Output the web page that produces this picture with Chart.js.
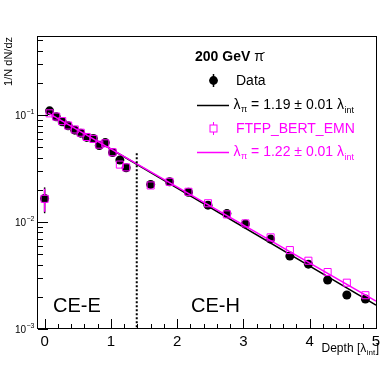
<!DOCTYPE html>
<html>
<head>
<meta charset="utf-8">
<script src="https://cdn.jsdelivr.net/npm/chart.js@4.4.1/dist/chart.umd.min.js"></script>
<style>
  html, body { margin: 0; padding: 0; background: #fff; }
  #wrap { width: 382px; height: 366px; }
</style>
</head>
<body>
<div id="wrap"><canvas id="js-depth-chart" width="382" height="366"></canvas></div>
<script>
// longitudinal shower profile, 200 GeV pi-, data vs FTFP_BERT_EMN
var depth = [0, 0.075, 0.175, 0.265, 0.355, 0.455, 0.545, 0.635, 0.735, 0.825, 0.915, 1.025, 1.135, 1.23,
  1.6, 1.885, 2.17, 2.465, 2.75, 3.03, 3.41, 3.70, 3.98, 4.27, 4.56, 4.84]
var dataVal = [0.0166, 0.1097, 0.0964, 0.0866, 0.0795, 0.0724, 0.0679, 0.0619, 0.0605, 0.0520, 0.0554, 0.0448, 0.0380, 0.0322,
  0.0225, 0.0238, 0.0190, 0.0144, 0.0120, 0.00957, 0.00693, 0.00481, 0.00404, 0.00287, 0.00208, 0.00191]
var dataErr = [0.0045, 0, 0, 0, 0, 0, 0, 0, 0, 0, 0, 0, 0, 0, 0, 0, 0, 0, 0, 0, 0, 0, 0, 0, 0, 0]
var mcVal = [0.0165, 0.104, 0.097, 0.088, 0.080, 0.0735, 0.0685, 0.0625, 0.060, 0.053, 0.0545, 0.045, 0.0345, 0.0325,
  0.0220, 0.0238, 0.0192, 0.0150, 0.0118, 0.00972, 0.0072, 0.00547, 0.00435, 0.00341, 0.00271, 0.00207]
var mcErr = [0.0040, 0, 0, 0, 0, 0, 0, 0, 0, 0, 0, 0, 0, 0, 0, 0, 0, 0, 0, 0, 0, 0, 0, 0, 0, 0]

// exponential fits, drawn as straight lines on the log axis
var fitDepth = [0.05, 5.0]
var fitData = [0.107, 0.00167]
var fitMc = [0.105, 0.00182]

// CE-E / CE-H boundary
var boundaryDepth = 1.39
var boundaryTop = 0.044

var xTickLabels = ["0", "1", "2", "3", "4", "5"]
var yTickExps = [-3, -2, -1]

var MAGENTA = "#ff00ff"
var FONT = "'Liberation Sans', Arial, Helvetica, sans-serif"

function pts(xs, ys) {
  return xs.map(function (x, i) { return { x: x, y: ys[i] } })
}

function txt(ctx, s, x, y, size, color, weight) {
  ctx.font = (weight || "normal") + " " + size + "px " + FONT
  ctx.fillStyle = color || "#000"
  ctx.fillText(s, x, y)
  return x + ctx.measureText(s).width
}

// lambda_pi = ... lambda_int, with subscripts
function lambdaText(ctx, x, y, body, color) {
  x = txt(ctx, "λ", x, y, 14, color)
  x = txt(ctx, "π", x + 0.5, y + 3, 9, color)
  x = txt(ctx, body + "λ", x, y, 14, color)
  txt(ctx, "int", x + 0.5, y + 4, 9, color)
}

var rootStyle = {
  id: "rootStyle",
  beforeDatasetsDraw: function (chart) {
    var ctx = chart.ctx, xs = chart.scales.x, ys = chart.scales.y
    ctx.save()
    ctx.strokeStyle = "#000"
    ctx.lineWidth = 1.5
    ctx.beginPath()
    depth.forEach(function (d, i) {
      if (!dataErr[i]) return
      var px = xs.getPixelForValue(d)
      ctx.moveTo(px, ys.getPixelForValue(dataVal[i] + dataErr[i]))
      ctx.lineTo(px, ys.getPixelForValue(dataVal[i] - dataErr[i]))
    })
    ctx.stroke()
    ctx.restore()
  },
  afterDatasetsDraw: function (chart) {
    var ctx = chart.ctx, xs = chart.scales.x, ys = chart.scales.y, a = chart.chartArea
    ctx.save()
    ctx.strokeStyle = MAGENTA
    ctx.lineWidth = 1.5
    ctx.beginPath()
    depth.forEach(function (d, i) {
      if (!mcErr[i]) return
      var px = xs.getPixelForValue(d), py = ys.getPixelForValue(mcVal[i])
      ctx.moveTo(px, ys.getPixelForValue(mcVal[i] + mcErr[i]))
      ctx.lineTo(px, py - 3.5)
      ctx.moveTo(px, py + 3.5)
      ctx.lineTo(px, ys.getPixelForValue(mcVal[i] - mcErr[i]))
    })
    ctx.stroke()

    // dotted boundary line
    ctx.strokeStyle = "#000"
    ctx.lineWidth = 2
    ctx.setLineDash([2, 2])
    ctx.beginPath()
    var bx = xs.getPixelForValue(boundaryDepth)
    ctx.moveTo(bx, ys.getPixelForValue(boundaryTop))
    ctx.lineTo(bx, a.bottom)
    ctx.stroke()
    ctx.restore()
  },
  afterDraw: function (chart) {
    var ctx = chart.ctx, xs = chart.scales.x, ys = chart.scales.y, a = chart.chartArea
    ctx.save()

    // frame
    ctx.strokeStyle = "#000"
    ctx.lineWidth = 1
    ctx.strokeRect(Math.round(a.left) - 0.5, Math.round(a.top) + 0.5, Math.round(a.right - a.left) + 1, Math.round(a.bottom - a.top) - 1)

    // x ticks, inside the frame
    ctx.beginPath()
    for (var k = 0; k <= 25; k++) {
      var px = Math.round(xs.getPixelForValue(k * 0.2)) + 0.5
      var len = (k % 5 === 0) ? 10 : 5
      ctx.moveTo(px, a.bottom)
      ctx.lineTo(px, a.bottom - len)
    }
    // y ticks, log decades
    yTickExps.forEach(function (e) {
      for (var m = 1; m <= 9; m++) {
        var v = m * Math.pow(10, e)
        if (v > ys.max * 1.0001) continue
        var py = Math.round(ys.getPixelForValue(v)) + 0.5
        var l = (m === 1) ? 10 : 5
        ctx.moveTo(a.left, py)
        ctx.lineTo(a.left + l, py)
      }
    })
    ctx.stroke()

    // x tick labels
    ctx.textAlign = "center"
    ctx.textBaseline = "alphabetic"
    xTickLabels.forEach(function (s) {
      txt(ctx, s, xs.getPixelForValue(Number(s)), 346, 15)
    })

    // y tick labels 10^e
    ctx.textAlign = "left"
    yTickExps.forEach(function (e) {
      var py = ys.getPixelForValue(Math.pow(10, e))
      ctx.font = "7px " + FONT
      var sup = "\u2212" + Math.abs(e)
      var ws = ctx.measureText(sup).width
      ctx.font = "10px " + FONT
      var wb = ctx.measureText("10").width
      var x0 = 34 - ws - wb
      var x1 = txt(ctx, "10", x0, py + 4, 10)
      txt(ctx, sup, x1 + 0.5, py - 1, 7)
    })

    // axis titles
    ctx.save()
    ctx.translate(11.5, a.top + 1)
    ctx.rotate(-Math.PI / 2)
    ctx.textAlign = "right"
    txt(ctx, "1/N dN/dz", 0, 0, 11)
    ctx.restore()

    ctx.textAlign = "left"
    ctx.font = "12px " + FONT
    var w1 = ctx.measureText("Depth [λ").width
    var w3 = ctx.measureText("]").width
    ctx.font = "8px " + FONT
    var w2 = ctx.measureText("int").width
    var tx = 379 - w1 - w2 - w3 - 1
    tx = txt(ctx, "Depth [λ", tx, 351.5, 12)
    tx = txt(ctx, "int", tx + 0.5, 354.5, 8)
    txt(ctx, "]", tx + 0.5, 351.5, 12)

    // section labels
    txt(ctx, "CE-E", 53, 311.5, 20)
    txt(ctx, "CE-H", 191, 311.5, 20)

    // legend
    var gx = txt(ctx, "200 GeV", 195, 61, 14, "#000", "bold")
    txt(ctx, "π", gx + 4, 61, 14)
    txt(ctx, "-", gx + 12, 55, 9)

    ctx.fillStyle = "#000"
    ctx.beginPath()
    ctx.arc(213.5, 80.5, 4.4, 0, Math.PI * 2)
    ctx.fill()
    ctx.strokeStyle = "#000"
    ctx.lineWidth = 1.5
    ctx.beginPath()
    ctx.moveTo(213.5, 74)
    ctx.lineTo(213.5, 87)
    ctx.stroke()
    txt(ctx, "Data", 236, 85, 14)

    ctx.beginPath()
    ctx.moveTo(197, 105.5)
    ctx.lineTo(229, 105.5)
    ctx.stroke()
    lambdaText(ctx, 233.5, 109, " = 1.19 ± 0.01 ", "#000")

    ctx.strokeStyle = MAGENTA
    ctx.lineWidth = 1
    ctx.strokeRect(210, 125, 7, 7)
    ctx.beginPath()
    ctx.moveTo(213.5, 122)
    ctx.lineTo(213.5, 125)
    ctx.moveTo(213.5, 132)
    ctx.lineTo(213.5, 135)
    ctx.stroke()
    txt(ctx, "FTFP_BERT_EMN", 236, 133, 14, MAGENTA)

    ctx.lineWidth = 1.5
    ctx.beginPath()
    ctx.moveTo(197, 152.5)
    ctx.lineTo(229, 152.5)
    ctx.stroke()
    lambdaText(ctx, 233.5, 156, " = 1.22 ± 0.01 ", MAGENTA)

    ctx.restore()
  }
}

var ctx = document.getElementById("js-depth-chart")

var chart = new Chart(ctx,
  {
    type: "scatter",
    data: {
      datasets: [
        {
          label: "λπ = 1.22 ± 0.01 λint",
          data: pts(fitDepth, fitMc),
          showLine: true,
          borderColor: MAGENTA,
          borderWidth: 1.5,
          pointRadius: 0,
          order: 0
        },
        {
          label: "FTFP_BERT_EMN",
          data: pts(depth, mcVal),
          pointStyle: "rect",
          pointRadius: 5,
          borderColor: MAGENTA,
          backgroundColor: "rgba(0,0,0,0)",
          borderWidth: 1,
          order: 1
        },
        {
          label: "λπ = 1.19 ± 0.01 λint",
          data: pts(fitDepth, fitData),
          showLine: true,
          borderColor: "#000",
          borderWidth: 1.5,
          pointRadius: 0,
          order: 2
        },
        {
          label: "Data",
          data: pts(depth, dataVal),
          pointStyle: "circle",
          pointRadius: 4.5,
          backgroundColor: "#000",
          borderColor: "#000",
          borderWidth: 0,
          order: 3
        }
      ]
    },
    options: {
      responsive: false,
      animation: false,
      events: [],
      layout: {
        padding: { left: 38, top: 36, right: 4, bottom: 37 }
      },
      plugins: {
        legend: { display: false },
        tooltip: { enabled: false }
      },
      scales: {
        x: { type: "linear", min: -0.1, max: 5, display: false },
        y: { type: "logarithmic", min: 0.001, max: 0.55, display: false }
      }
    },
    plugins: [rootStyle]
  })
</script>
</body>
</html>
